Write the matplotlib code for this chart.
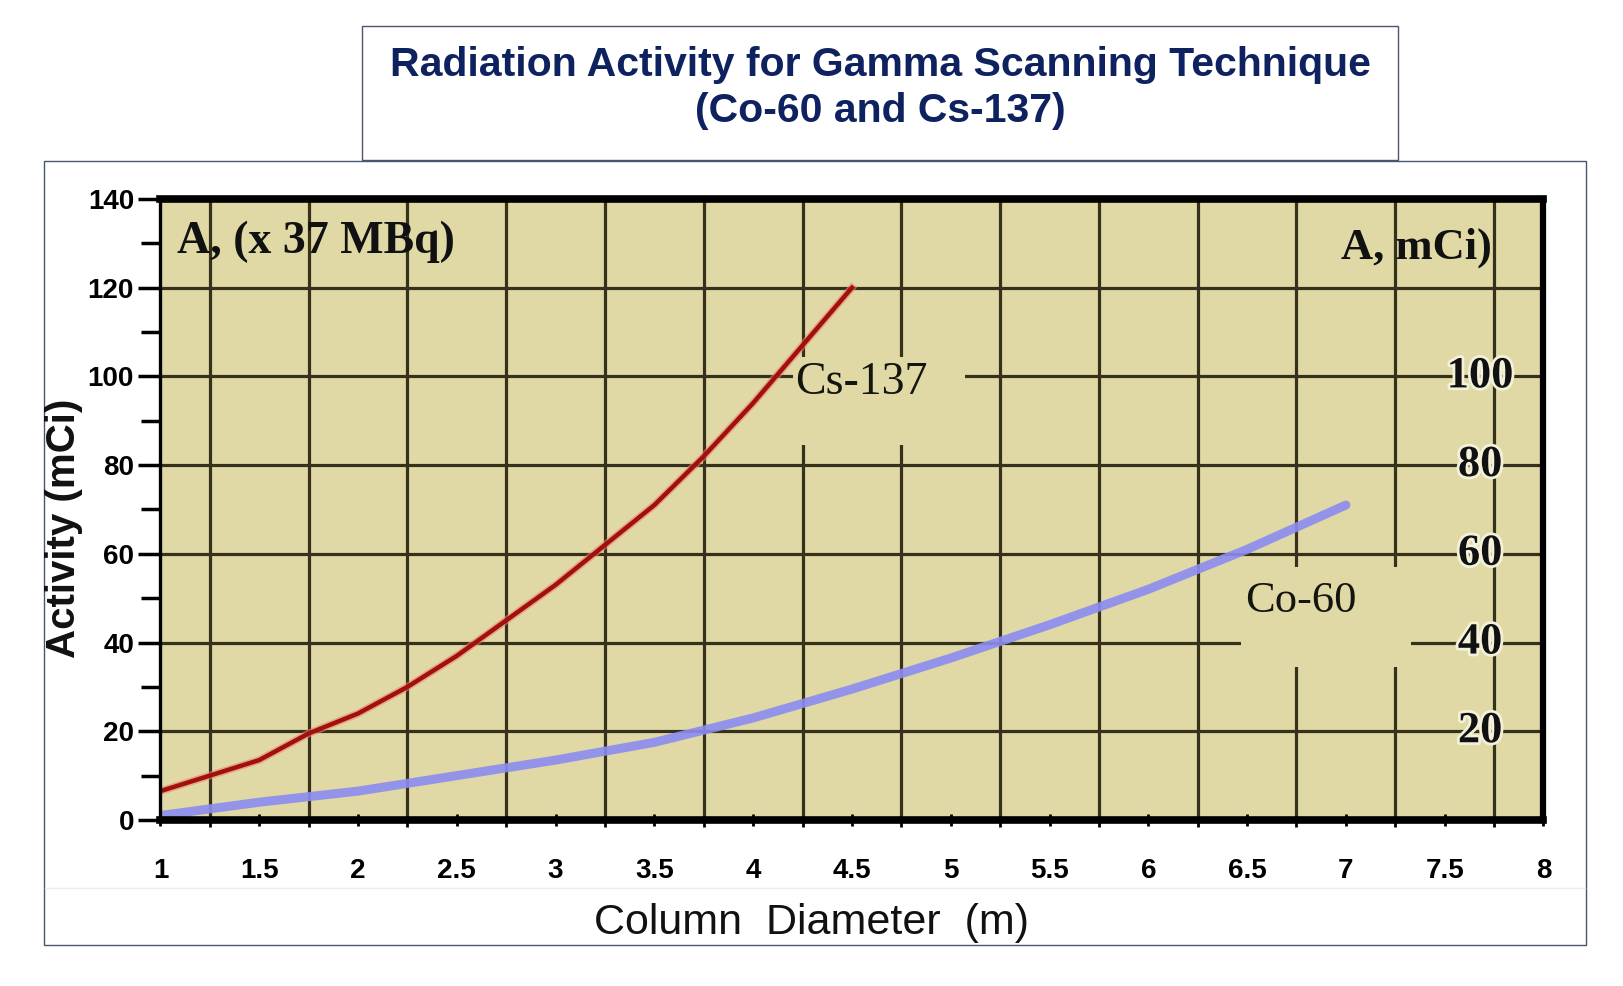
import numpy as np
import matplotlib
matplotlib.use('Agg')
import matplotlib.pyplot as plt
import matplotlib.patheffects as pe
from matplotlib.patches import Rectangle

# data
cs_x = [1.0, 1.25, 1.5, 1.75, 2.0, 2.25, 2.5, 2.75, 3.0, 3.25, 3.5, 3.75, 4.0, 4.25, 4.5]
cs_y = [6.5, 10, 13.5, 19.5, 24, 30, 37, 45, 53, 62, 71, 82, 94, 107, 120]
co_x = [1.0, 1.5, 2.0, 2.5, 3.0, 3.5, 4.0, 4.5, 5.0, 5.5, 6.0, 6.5, 7.0]
co_y = [1, 4, 6.5, 10, 13.5, 17.5, 23, 29.5, 36.5, 44, 52, 61, 71]
x_ticks = [1, 1.5, 2, 2.5, 3, 3.5, 4, 4.5, 5, 5.5, 6, 6.5, 7, 7.5, 8]
x_ticklabels = ['1', '1.5', '2', '2.5', '3', '3.5', '4', '4.5', '5', '5.5', '6', '6.5', '7', '7.5', '8']
y_ticks = [0, 20, 40, 60, 80, 100, 120, 140]
right_labels = [20, 40, 60, 80, 100]

SANS = ['Liberation Sans', 'DejaVu Sans']
SERIF = ['Liberation Serif', 'DejaVu Serif']
BG = '#e0d9a5'
GRID = '#35311c'

fig = plt.figure(figsize=(16.24, 9.86), dpi=100)

# frames around title and chart
fig.add_artist(Rectangle((0.223, 0.838), 0.638, 0.136, transform=fig.transFigure,
                         fill=False, edgecolor='#4a5570', lw=1.0))
fig.add_artist(Rectangle((0.0268, 0.042), 0.950, 0.795, transform=fig.transFigure,
                         fill=False, edgecolor='#4a5570', lw=1.0))
fig.add_artist(plt.Line2D([0.028, 0.976], [0.099, 0.099], transform=fig.transFigure,
                          color='#ececec', lw=1.0))

fig.text(0.542, 0.934, 'Radiation Activity for Gamma Scanning Technique',
         ha='center', va='center', fontsize=29.5, fontweight='bold', color='#0f2260', family=SANS)
fig.text(0.542, 0.887, '(Co-60 and Cs-137)',
         ha='center', va='center', fontsize=29.5, fontweight='bold', color='#0f2260', family=SANS)

ax = fig.add_axes([0.0988, 0.1684, 0.8516, 0.6298])
ax.set_facecolor(BG)
ax.set_xlim(1, 8)
ax.set_ylim(0, 140)

# grid lines sit between the x ticks
for gx in np.arange(1.25, 8, 0.5):
    ax.axvline(gx, color=GRID, lw=2.3, zorder=1)
for gy in range(20, 140, 20):
    ax.axhline(gy, color=GRID, lw=2.3, zorder=1)

# label boxes that break the grid
ax.add_patch(Rectangle((4.2, 84.5), 0.87, 19.8, facecolor=BG, edgecolor='none', zorder=2))
ax.add_patch(Rectangle((6.47, 34.5), 0.86, 22.5, facecolor=BG, edgecolor='none', zorder=2))

ax.plot(co_x, co_y, color='#8c8cf2', lw=6.5, alpha=0.9, solid_capstyle='round', zorder=3)
ax.plot(cs_x, cs_y, color='#f08070', lw=5.5, alpha=0.6, zorder=3)
ax.plot(cs_x, cs_y, color='#a0100c', lw=3.2, zorder=4)

ax.text(4.55, 98.5, 'Cs-137', ha='center', va='center', fontsize=33, family=SERIF,
        color='#151510', zorder=5)
ax.text(6.77, 49.4, 'Co-60', ha='center', va='center', fontsize=32, family=SERIF,
        color='#151510', zorder=5)
ax.text(1.085, 130.3, 'A, (x 37 MBq)', ha='left', va='center', fontsize=33, fontweight='bold',
        family=SERIF, color='#111111', zorder=5)
ax.text(7.74, 129.0, 'A, mCi)', ha='right', va='center', fontsize=32, fontweight='bold',
        family=SERIF, color='#111111', zorder=5)
for v in right_labels:
    ax.text(7.68, v, str(v), ha='center', va='center', fontsize=32, fontweight='bold',
            family=SERIF, color='#111111', zorder=5,
            path_effects=[pe.withStroke(linewidth=4, foreground='#f4f1da')])

for side, w in [('top', 5.5), ('bottom', 5.5), ('right', 4.5), ('left', 2.4)]:
    ax.spines[side].set_linewidth(w)
    ax.spines[side].set_color('black')
    ax.spines[side].set_zorder(6)

ax.set_xticks(x_ticks)
ax.set_xticklabels(x_ticklabels, fontsize=20, fontweight='bold', family=SANS)
ax.set_xticks(np.arange(1.25, 8, 0.5), minor=True)
ax.set_yticks(y_ticks)
ax.set_yticklabels([str(v) for v in y_ticks], fontsize=20, fontweight='bold', family=SANS)
ax.set_yticks(range(10, 140, 20), minor=True)
ax.tick_params(axis='x', which='major', direction='inout', length=9, width=2, pad=23)
ax.tick_params(axis='x', which='minor', direction='out', length=5, width=2)
ax.tick_params(axis='y', which='major', direction='out', length=16, width=2.5, pad=3)
ax.tick_params(axis='y', which='minor', direction='out', length=14, width=2.5)

fig.text(0.4995, 0.064, 'Column  Diameter  (m)', ha='center', va='center', fontsize=31,
         family=SANS, color='#111111')
fig.text(0.0395, 0.464, 'Activity (mCi)', ha='center', va='center', fontsize=29,
         fontweight='bold', rotation=90, family=SANS, color='#111111')

fig.savefig('out.png', dpi=100)
